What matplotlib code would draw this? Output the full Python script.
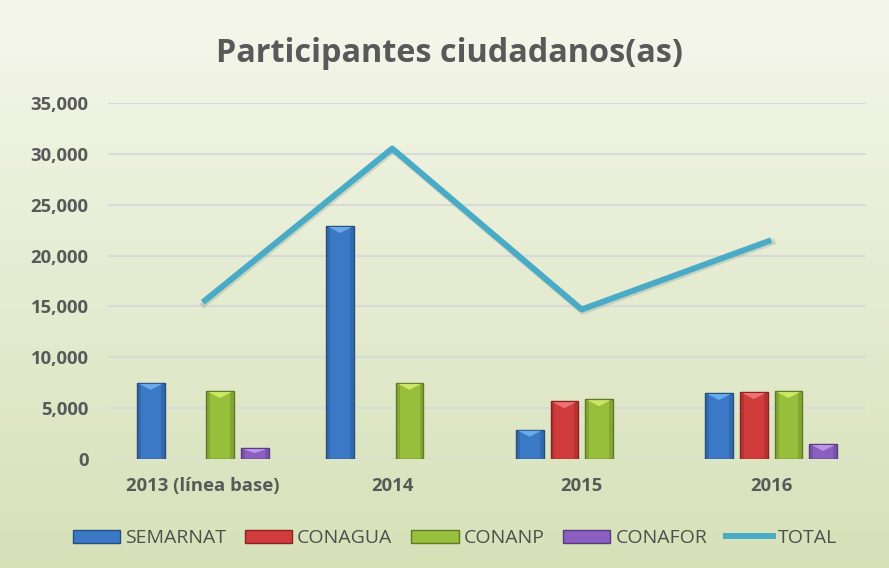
import matplotlib
matplotlib.use("Agg")
import matplotlib.pyplot as plt
import matplotlib.transforms as mtransforms
import numpy as np
from matplotlib.patches import Patch, Polygon
from matplotlib.lines import Line2D
from matplotlib.ticker import FuncFormatter, MultipleLocator
from matplotlib.colors import LinearSegmentedColormap

categories = ["2013 (línea base)", "2014", "2015", "2016"]
semarnat = [7500, 22900, 2900, 6500]
conagua = [0, 0, 5700, 6600]
conanp = [6700, 7500, 5900, 6700]
conafor = [1100, 0, 0, 1500]
total = [15400, 30500, 14700, 21500]
series_names = ["SEMARNAT", "CONAGUA", "CONANP", "CONAFOR"]
colors = ["#3b78c6", "#d03b3b", "#98bf3c", "#8a5fbf"]
edge_colors = ["#24507f", "#8a2222", "#5f7a22", "#5a3a80"]
light_colors = ["#6fb0f0", "#f07a7a", "#d0ec6a", "#c39af0"]
line_color = "#4aabc7"
text_color = "#595959"

plt.rcParams['font.family'] = ['Open Sans', 'DejaVu Sans']

W, H = 889, 568
fig = plt.figure(figsize=(W / 100, H / 100), dpi=100)

# background gradient
bg = fig.add_axes([0, 0, 1, 1], zorder=-10)
grad = np.linspace(0, 1, 256).reshape(-1, 1)
cmap = LinearSegmentedColormap.from_list("bg", ["#f5f7ec", "#d6e1b8"])
bg.imshow(grad, aspect='auto', cmap=cmap, extent=[0, 1, 0, 1], origin='upper')
bg.axis('off')

ax_rect = [0.1215, 0.1914, 0.8525, 0.6278]
ax = fig.add_axes(ax_rect)
ax.set_facecolor('none')
ymax = 35000
ax.set_xlim(-0.5, 3.5)
ax.set_ylim(0, ymax)
units_per_px = ymax / (ax_rect[3] * H)

x = np.arange(len(categories))
step = 0.183
bw = 0.146
all_vals = [semarnat, conagua, conanp, conafor]
for i, (vals, c, ec, lc) in enumerate(zip(all_vals, colors, edge_colors, light_colors)):
    off = (i - 1.5) * step
    bars = ax.bar(x + off, vals, width=bw, color=c, edgecolor=ec, linewidth=1.0, zorder=3)
    for b in bars:
        h = b.get_height()
        if h <= 0:
            b.set_linewidth(0)
            b.set_visible(False)
            continue
        x0 = b.get_x()
        w = b.get_width()
        sw = w * 0.14
        ax.add_patch(Polygon([[x0, 0], [x0 + sw, 0], [x0 + sw, h], [x0, h]],
                             closed=True, facecolor=ec, alpha=0.35, linewidth=0, zorder=3.2))
        ax.add_patch(Polygon([[x0 + w - sw, 0], [x0 + w, 0], [x0 + w, h], [x0 + w - sw, h]],
                             closed=True, facecolor=ec, alpha=0.35, linewidth=0, zorder=3.2))
        cap = min(7 * units_per_px, h * 0.45)
        ax.add_patch(Polygon([[x0 + w * 0.08, h - units_per_px], [x0 + w * 0.92, h - units_per_px],
                              [x0 + w * 0.5, h - cap]],
                             closed=True, facecolor=lc, alpha=0.9, linewidth=0, zorder=3.3))

shadow = ax.transData + mtransforms.ScaledTranslation(1 / 100, -2 / 100, fig.dpi_scale_trans)
ax.plot(x, total, color="#6f8f80", linewidth=4.5, alpha=0.25, zorder=3.5, transform=shadow)
ax.plot(x, total, color=line_color, linewidth=4.3, zorder=4, solid_capstyle='butt')

ax.yaxis.set_major_locator(MultipleLocator(5000))
ax.yaxis.set_major_formatter(FuncFormatter(lambda v, p: f"{int(v):,}"))
ax.grid(axis='y', color='#d9d9d9', linewidth=1.5, zorder=0)
for s in ax.spines.values():
    s.set_visible(False)
ax.tick_params(axis='both', length=0, colors=text_color, labelsize=13.3)
ax.tick_params(axis='y', pad=14)
ax.tick_params(axis='x', pad=13)
ax.set_xticks(x)
ax.set_xticklabels(categories)
for lab in ax.get_xticklabels() + ax.get_yticklabels():
    lab.set_fontweight('bold')
    lab.set_color(text_color)

fig.text(0.506, 1 - 53 / H, "Participantes ciudadanos(as)", ha='center', va='center',
         fontsize=23.3, fontweight='bold', color=text_color)

handles = [Patch(facecolor=c, edgecolor=ec, label=n) for c, ec, n in zip(colors, edge_colors, series_names)]
handles.append(Line2D([0], [0], color=line_color, linewidth=4.3, label="TOTAL"))
leg = fig.legend(handles=handles, loc='center', bbox_to_anchor=(455 / W, 1 - 538 / H), ncol=5,
                 frameon=False, fontsize=14, handlelength=2.45, handleheight=0.65,
                 columnspacing=0.95, handletextpad=0.25)
for t in leg.get_texts():
    t.set_color("#4f4f4f")

fig.savefig("out.png", dpi=100)
